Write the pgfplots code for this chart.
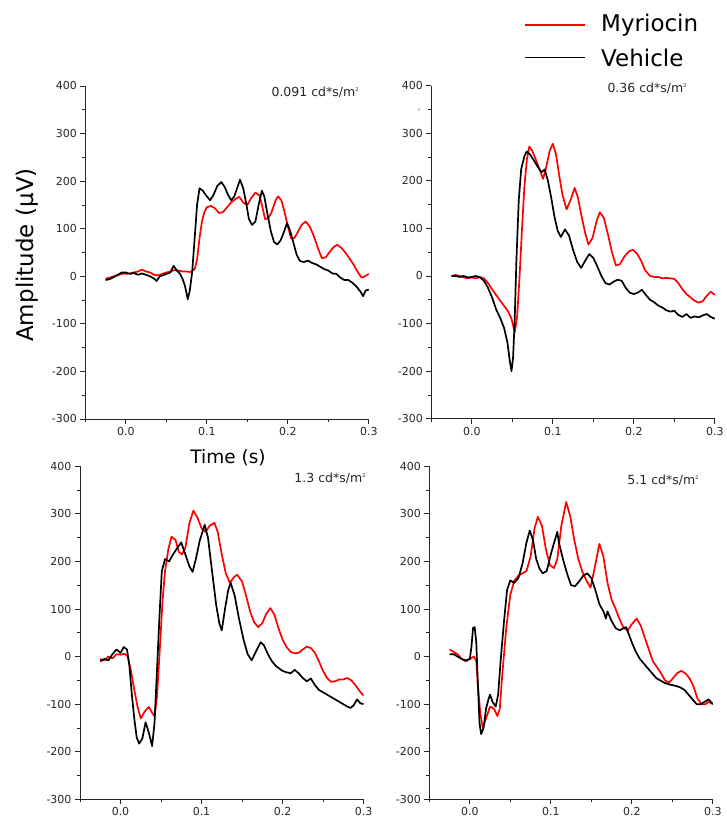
\documentclass[border=0pt]{standalone}
\usepackage{fontspec}
\setmainfont{DejaVu Sans}
\usepackage{pgfplots}
\pgfplotsset{compat=1.18}

\definecolor{myr}{RGB}{255,0,0}

\pgfplotsset{
  erg/.style={
    scale only axis, width=283.5pt, height=333pt,
    xmin=-0.05, xmax=0.3, ymin=-300, ymax=400,
    axis x line=bottom, axis y line=left,
    axis line style={-, black!85, line width=0.8pt},
    every outer x axis line/.append style={-},
    every outer y axis line/.append style={-},
    xtick={0,0.1,0.2,0.3}, xticklabels={0.0,0.1,0.2,0.3},
    minor xtick={-0.05,0.05,0.15,0.25},
    ytick={-300,-200,...,400},
    yticklabels={-300,-200,-100,0,100,200,300,400},
    minor ytick={-250,-150,...,350},
    tick align=outside, major tick length=5pt, minor tick length=3pt,
    tick style={black!85, line width=0.8pt},
    ticklabel style={font=\fontsize{11}{13}\selectfont, text=black!85},
    every axis plot/.append style={line width=1.7pt, line join=round},
  },
}
\tikzset{note/.style={font=\fontsize{12.5}{14}\selectfont, text=black!85, anchor=east}}
\newcommand{\msq}{m\raisebox{0.75ex}{\fontsize{5}{5}\selectfont 2}}

\begin{document}
\begin{tikzpicture}
\path (0,0) rectangle (726pt,821pt);

% 0.091
\begin{axis}[erg, at={(85.3pt,402pt)}, anchor=south west]
\addplot[myr] coordinates {(-0.025,-5)(-0.02,-3)(-0.015,0)(-0.01,2)(-0.005,5)(0.0,5)(0.005,6)(0.01,8)(0.015,10)(0.02,14)(0.025,10)(0.03,8)(0.035,3)(0.04,2)(0.045,5)(0.05,8)(0.055,10)(0.06,13)(0.065,12)(0.07,10)(0.075,10)(0.08,9)(0.085,15)(0.088,35)(0.091,80)(0.094,115)(0.097,135)(0.1,145)(0.105,148)(0.11,143)(0.115,133)(0.12,135)(0.125,145)(0.13,155)(0.135,162)(0.14,167)(0.145,155)(0.15,150)(0.155,165)(0.16,176)(0.165,170)(0.168,150)(0.172,120)(0.176,122)(0.18,135)(0.185,160)(0.188,168)(0.192,160)(0.196,135)(0.2,105)(0.204,80)(0.208,80)(0.212,92)(0.217,108)(0.222,115)(0.227,105)(0.232,85)(0.237,60)(0.242,38)(0.247,40)(0.252,52)(0.257,62)(0.261,66)(0.266,60)(0.271,50)(0.276,38)(0.281,25)(0.286,10)(0.291,-3)(0.295,0)(0.3,5)};
\addplot[black] coordinates {(-0.025,-8)(-0.02,-6)(-0.015,-2)(-0.01,3)(-0.005,8)(0.0,8)(0.005,5)(0.01,7)(0.015,3)(0.02,6)(0.025,3)(0.03,0)(0.035,-5)(0.038,-10)(0.042,0)(0.046,2)(0.05,5)(0.055,8)(0.059,22)(0.063,12)(0.067,5)(0.07,-5)(0.073,-20)(0.0765,-48)(0.079,-30)(0.082,10)(0.085,80)(0.088,150)(0.091,185)(0.095,180)(0.1,168)(0.104,160)(0.108,170)(0.113,190)(0.118,198)(0.122,188)(0.126,172)(0.13,160)(0.134,168)(0.138,188)(0.141,203)(0.145,185)(0.149,150)(0.152,120)(0.156,108)(0.16,115)(0.164,150)(0.168,180)(0.171,168)(0.175,130)(0.179,95)(0.183,72)(0.187,67)(0.191,75)(0.195,92)(0.199,112)(0.203,95)(0.207,70)(0.211,45)(0.215,32)(0.22,30)(0.225,33)(0.23,28)(0.235,25)(0.24,20)(0.245,15)(0.25,12)(0.255,6)(0.26,5)(0.265,-3)(0.27,-8)(0.275,-8)(0.28,-14)(0.285,-22)(0.29,-33)(0.293,-42)(0.296,-30)(0.3,-28)};
\end{axis}

% 0.36
\begin{axis}[erg, at={(431.3pt,402.3pt)}, anchor=south west]
\addplot[myr] coordinates {(-0.025,0)(-0.02,2)(-0.015,0)(-0.01,-3)(-0.005,-5)(0.0,-3)(0.005,-5)(0.01,-2)(0.015,-5)(0.02,-15)(0.025,-28)(0.03,-40)(0.035,-52)(0.04,-63)(0.045,-75)(0.049,-90)(0.053,-118)(0.056,-85)(0.059,0)(0.062,100)(0.065,190)(0.068,245)(0.071,272)(0.075,262)(0.08,240)(0.085,218)(0.088,204)(0.092,230)(0.096,262)(0.1,278)(0.104,255)(0.108,210)(0.112,170)(0.117,140)(0.122,160)(0.127,185)(0.131,165)(0.135,130)(0.14,90)(0.144,66)(0.149,80)(0.154,115)(0.158,134)(0.163,122)(0.168,88)(0.173,50)(0.178,22)(0.183,25)(0.188,40)(0.194,52)(0.199,55)(0.204,47)(0.209,32)(0.214,12)(0.22,0)(0.225,-2)(0.23,-2)(0.235,-5)(0.24,-4)(0.245,-5)(0.25,-6)(0.255,-15)(0.26,-28)(0.265,-38)(0.27,-45)(0.275,-52)(0.28,-56)(0.285,-53)(0.29,-42)(0.295,-33)(0.3,-40)};
\addplot[black] coordinates {(-0.025,0)(-0.02,0)(-0.015,-2)(-0.01,0)(-0.005,-3)(0.0,-2)(0.005,0)(0.01,-3)(0.015,-10)(0.02,-25)(0.025,-45)(0.03,-70)(0.035,-88)(0.04,-110)(0.044,-140)(0.047,-180)(0.049,-200)(0.051,-170)(0.053,-90)(0.055,30)(0.058,160)(0.061,225)(0.065,252)(0.068,262)(0.072,255)(0.077,242)(0.082,228)(0.086,218)(0.09,224)(0.094,200)(0.098,165)(0.102,125)(0.106,95)(0.11,82)(0.115,98)(0.12,85)(0.125,55)(0.13,30)(0.135,17)(0.14,32)(0.145,46)(0.15,38)(0.155,20)(0.16,0)(0.165,-15)(0.17,-18)(0.175,-12)(0.18,-8)(0.185,-10)(0.19,-25)(0.195,-35)(0.2,-38)(0.205,-35)(0.21,-29)(0.215,-40)(0.22,-50)(0.225,-55)(0.23,-62)(0.235,-66)(0.24,-72)(0.245,-75)(0.25,-73)(0.255,-82)(0.26,-86)(0.265,-80)(0.27,-88)(0.275,-85)(0.28,-87)(0.285,-83)(0.29,-80)(0.295,-86)(0.3,-90)};
\end{axis}

% 1.3
\begin{axis}[erg, at={(80pt,21.7pt)}, anchor=south west]
\addplot[myr] coordinates {(-0.025,-5)(-0.02,-8)(-0.015,0)(-0.01,-4)(-0.005,5)(0.0,4)(0.005,6)(0.009,0)(0.013,-30)(0.017,-70)(0.021,-105)(0.025,-130)(0.03,-115)(0.035,-106)(0.039,-118)(0.042,-125)(0.045,-85)(0.048,0)(0.052,120)(0.055,180)(0.059,225)(0.063,252)(0.068,245)(0.072,220)(0.076,215)(0.08,228)(0.085,280)(0.09,307)(0.095,292)(0.1,270)(0.105,262)(0.11,275)(0.116,281)(0.12,262)(0.125,215)(0.13,175)(0.135,155)(0.14,167)(0.144,172)(0.15,158)(0.155,128)(0.16,95)(0.165,72)(0.17,62)(0.175,70)(0.18,90)(0.185,102)(0.19,88)(0.195,60)(0.2,36)(0.205,20)(0.21,10)(0.215,7)(0.22,8)(0.225,15)(0.23,21)(0.235,18)(0.24,8)(0.245,-10)(0.25,-30)(0.255,-45)(0.26,-53)(0.265,-52)(0.27,-48)(0.275,-48)(0.28,-45)(0.285,-50)(0.29,-60)(0.295,-72)(0.3,-82)};
\addplot[black] coordinates {(-0.025,-10)(-0.02,-5)(-0.015,-8)(-0.01,5)(-0.005,15)(0.0,8)(0.004,20)(0.008,15)(0.011,-20)(0.014,-80)(0.017,-130)(0.02,-170)(0.023,-183)(0.027,-172)(0.031,-138)(0.035,-160)(0.039,-188)(0.042,-140)(0.045,-30)(0.048,80)(0.051,180)(0.055,205)(0.06,200)(0.065,215)(0.07,228)(0.075,240)(0.08,215)(0.085,190)(0.089,178)(0.093,205)(0.098,245)(0.104,277)(0.108,250)(0.113,180)(0.118,110)(0.122,70)(0.125,55)(0.129,100)(0.133,140)(0.136,155)(0.141,128)(0.146,82)(0.152,35)(0.157,5)(0.162,-8)(0.167,10)(0.173,30)(0.177,24)(0.182,5)(0.187,-10)(0.192,-20)(0.2,-30)(0.205,-33)(0.21,-35)(0.215,-28)(0.22,-35)(0.225,-45)(0.23,-52)(0.235,-46)(0.24,-60)(0.245,-70)(0.25,-75)(0.255,-80)(0.26,-85)(0.265,-90)(0.27,-95)(0.275,-100)(0.28,-105)(0.284,-108)(0.288,-102)(0.292,-90)(0.296,-98)(0.3,-100)};
\end{axis}

% 5.1
\begin{axis}[erg, at={(429.3pt,21.7pt)}, anchor=south west]
\addplot[myr] coordinates {(-0.025,15)(-0.02,10)(-0.015,5)(-0.01,-5)(-0.005,-10)(0.0,-5)(0.005,0)(0.008,-10)(0.01,-60)(0.013,-120)(0.016,-150)(0.02,-130)(0.025,-105)(0.03,-110)(0.034,-125)(0.037,-110)(0.04,-40)(0.045,60)(0.05,130)(0.055,160)(0.06,170)(0.065,175)(0.07,180)(0.075,210)(0.08,270)(0.084,294)(0.089,275)(0.094,225)(0.099,192)(0.104,186)(0.108,205)(0.113,275)(0.119,325)(0.124,295)(0.129,245)(0.134,205)(0.139,178)(0.144,160)(0.149,145)(0.154,185)(0.16,237)(0.165,210)(0.17,155)(0.175,120)(0.18,100)(0.185,78)(0.19,60)(0.195,55)(0.2,68)(0.206,80)(0.211,65)(0.216,40)(0.221,15)(0.226,-10)(0.231,-22)(0.236,-35)(0.241,-50)(0.246,-55)(0.251,-45)(0.256,-35)(0.261,-30)(0.266,-35)(0.271,-45)(0.276,-62)(0.281,-88)(0.286,-100)(0.291,-100)(0.295,-95)(0.3,-100)};
\addplot[black] coordinates {(-0.025,5)(-0.02,5)(-0.015,0)(-0.01,-5)(-0.005,-8)(0.0,-5)(0.002,20)(0.004,60)(0.006,62)(0.008,30)(0.01,-60)(0.012,-140)(0.014,-163)(0.017,-150)(0.02,-110)(0.023,-90)(0.025,-80)(0.028,-95)(0.032,-105)(0.035,-80)(0.038,-10)(0.042,70)(0.046,140)(0.05,160)(0.055,155)(0.06,165)(0.065,195)(0.07,240)(0.074,265)(0.078,245)(0.082,205)(0.086,185)(0.09,175)(0.095,180)(0.1,215)(0.105,245)(0.108,262)(0.11,240)(0.115,205)(0.12,175)(0.125,150)(0.13,148)(0.135,158)(0.14,170)(0.145,175)(0.15,165)(0.155,140)(0.16,110)(0.165,95)(0.168,80)(0.17,95)(0.175,75)(0.18,60)(0.185,55)(0.19,60)(0.193,62)(0.2,30)(0.205,10)(0.21,-5)(0.215,-15)(0.22,-25)(0.225,-35)(0.23,-45)(0.235,-50)(0.24,-55)(0.245,-58)(0.25,-60)(0.255,-62)(0.26,-65)(0.265,-70)(0.27,-80)(0.275,-90)(0.28,-100)(0.285,-100)(0.29,-95)(0.295,-90)(0.3,-100)};
\end{axis}

% stimulus labels
\node[note] at (362pt,728.3pt) {0.091 cd*s/\msq};
\node[note] at (690pt,732.7pt) {0.36 cd*s/\msq};
\node[note] at (369pt,342.7pt) {1.3 cd*s/\msq};
\node[note] at (702pt,341pt) {5.1 cd*s/\msq};
\node[font=\fontsize{4}{4}\selectfont, text=black!60] at (419pt,711pt) {2};

% axis titles
\node[font=\fontsize{23}{26}\selectfont, rotate=90] at (27.5pt,566pt) {Amplitude (μV)};
\node[font=\fontsize{18.5}{21}\selectfont] at (228pt,363pt) {Time (s)};

% legend
\draw[myr, line width=1.2pt] (525pt,796pt) -- (585pt,796pt);
\node[anchor=west, inner sep=0pt, font=\fontsize{23}{26}\selectfont] at (601pt,796pt) {Myriocin};
\draw[black, line width=1.2pt] (525pt,763.3pt) -- (585pt,763.3pt);
\node[anchor=west, inner sep=0pt, font=\fontsize{23}{26}\selectfont] at (601pt,763.3pt) {Vehicle};
\end{tikzpicture}
\end{document}
